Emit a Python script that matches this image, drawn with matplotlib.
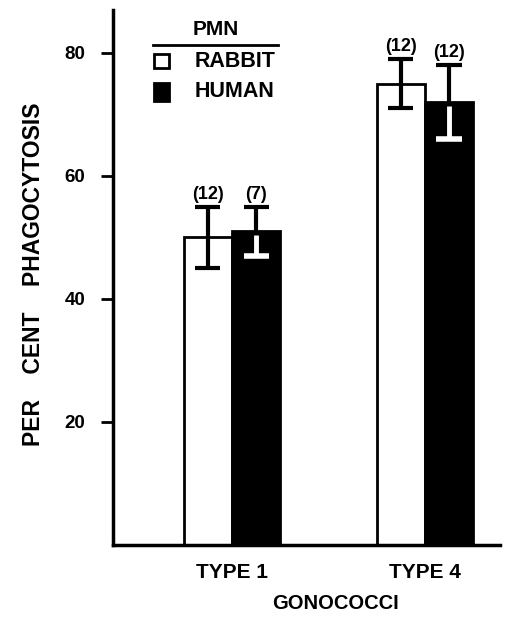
import matplotlib.pyplot as plt
from matplotlib.patches import Rectangle
from matplotlib.lines import Line2D

groups = ["TYPE 1", "TYPE 4"]
rabbit = [50, 75]
human = [51, 72]
rabbit_err = [5, 4]
human_err = [4, 6]
rabbit_n = ["(12)", "(12)"]
human_n = ["(7)", "(12)"]

plt.rcParams["font.family"] = ["Liberation Sans", "DejaVu Sans"]
plt.rcParams["font.weight"] = "bold"

fig = plt.figure(figsize=(5.09, 6.17), dpi=100)
ax = fig.add_axes([0.222, 0.117, 0.76, 0.867])

centers = [2.46, 6.45]
w = 1.0
xr = [c - w / 2 for c in centers]
xh = [c + w / 2 for c in centers]

ax.bar(xr, rabbit, width=w, color="white", edgecolor="black", linewidth=2, zorder=2)
ax.bar(xh, human, width=w, color="black", edgecolor="black", linewidth=2, zorder=2)

cap = 0.26
for i in range(len(groups)):
    # rabbit error bar, all black
    lo = rabbit[i] - rabbit_err[i]
    hi = rabbit[i] + rabbit_err[i]
    ax.vlines(xr[i], lo, hi, color="black", lw=3, zorder=3)
    ax.hlines([lo, hi], xr[i] - cap, xr[i] + cap, color="black", lw=3, zorder=3)
    ax.text(xr[i], hi + 2.0, rabbit_n[i], ha="center", va="center", fontsize=13, fontweight="bold")
    # human error bar: black above the bar, white inside it
    lo = human[i] - human_err[i]
    hi = human[i] + human_err[i]
    ax.vlines(xh[i], human[i], hi, color="black", lw=3, zorder=3)
    ax.hlines(hi, xh[i] - cap, xh[i] + cap, color="black", lw=3, zorder=3)
    ax.vlines(xh[i], lo, human[i] - 0.6, color="white", lw=3.5, zorder=3)
    ax.hlines(lo, xh[i] - cap, xh[i] + cap, color="white", lw=4, zorder=3)
    ax.text(xh[i], hi + 2.0, human_n[i], ha="center", va="center", fontsize=13, fontweight="bold")

ax.set_xlim(0, 8)
ax.set_ylim(0, 87)
ax.set_yticks([20, 40, 60, 80])
ax.set_xticks(centers)
ax.set_xticklabels(groups)
ax.tick_params(axis="x", length=0, pad=13, labelsize=15)
ax.tick_params(axis="y", length=9, width=2, pad=11, labelsize=13.5)
for lab in ax.get_xticklabels() + ax.get_yticklabels():
    lab.set_fontweight("bold")

for s in ["top", "right"]:
    ax.spines[s].set_visible(False)
for s in ["left", "bottom"]:
    ax.spines[s].set_linewidth(2.5)

ax.text(-0.205, 0.505, "PER    CENT    PHAGOCYTOSIS", transform=ax.transAxes, rotation=90,
        ha="center", va="center", fontsize=16.5, fontweight="bold")
ax.text(0.574, -0.110, "GONOCOCCI", transform=ax.transAxes, ha="center", va="center",
        fontsize=14.5, fontweight="bold")

# legend drawn by hand: title, rule, two swatches
ax.text(0.266, 0.963, "PMN", transform=ax.transAxes, ha="center", va="center",
        fontsize=15, fontweight="bold")
ax.add_line(Line2D([0.103, 0.426], [0.935, 0.935], transform=ax.transAxes, color="black", lw=2))
ax.add_patch(Rectangle((0.106, 0.891), 0.038, 0.027, transform=ax.transAxes,
                       facecolor="white", edgecolor="black", lw=2))
ax.add_patch(Rectangle((0.106, 0.830), 0.038, 0.033, transform=ax.transAxes,
                       facecolor="black", edgecolor="black", lw=2))
ax.text(0.212, 0.903, "RABBIT", transform=ax.transAxes, ha="left", va="center",
        fontsize=15.5, fontweight="bold")
ax.text(0.212, 0.847, "HUMAN", transform=ax.transAxes, ha="left", va="center",
        fontsize=15.5, fontweight="bold")

fig.savefig("out.png", dpi=100)
